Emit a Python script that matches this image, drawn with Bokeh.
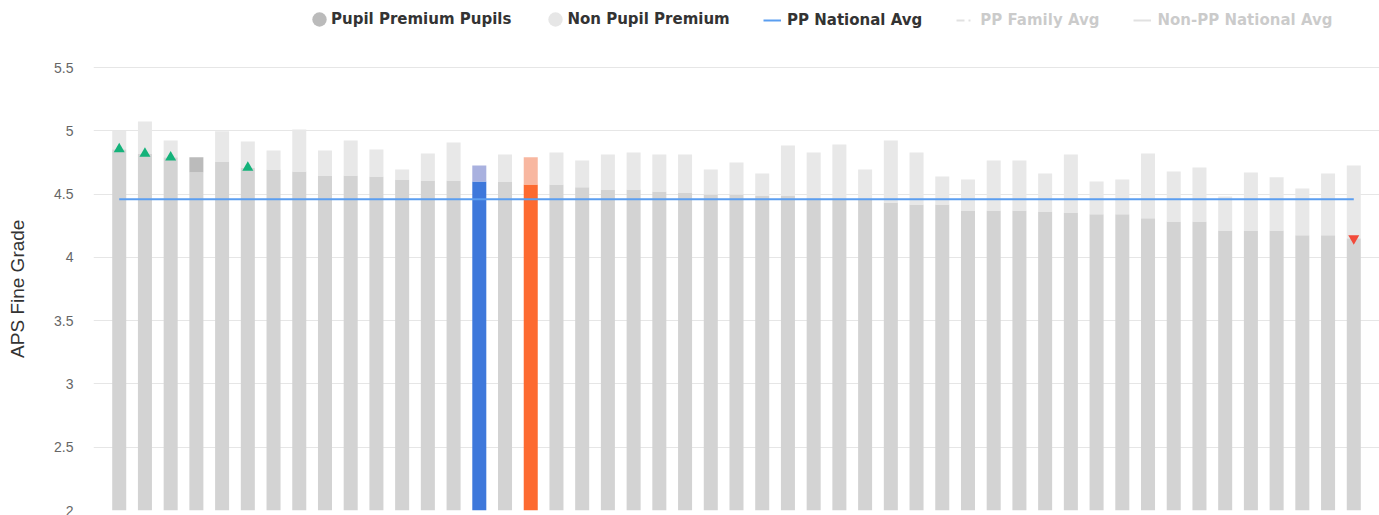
import numpy as np
from bokeh.plotting import figure
from bokeh.models import (Range1d, FixedTicker, CustomJSTickFormatter, Legend,
                          LegendItem, ColumnDataSource)
from bokeh.embed import file_html
from bokeh.resources import INLINE

# ---------------- data ----------------
pp_scores = [4.855, 4.82, 4.79, 4.79, 4.758, 4.71, 4.694, 4.678, 4.647, 4.647,
             4.639, 4.615, 4.608, 4.608, 4.60, 4.60, 4.576, 4.576, 4.553, 4.537,
             4.537, 4.521, 4.513, 4.497, 4.497, 4.489, 4.489, 4.466, 4.46, 4.455,
             4.434, 4.418, 4.418, 4.371, 4.371, 4.371, 4.363, 4.355, 4.34, 4.34,
             4.308, 4.284, 4.284, 4.213, 4.213, 4.213, 4.174, 4.174, 4.15]
non_pp_scores = [5.00, 5.073, 4.923, 4.67, 4.997, 4.916, 4.845, 5.01, 4.845, 4.923,
                 4.852, 4.694, 4.82, 4.907, 4.726, 4.813, 4.79, 4.829, 4.766, 4.813,
                 4.829, 4.813, 4.813, 4.695, 4.75, 4.663, 4.884, 4.829, 4.892, 4.695,
                 4.923, 4.829, 4.639, 4.615, 4.766, 4.766, 4.663, 4.813, 4.60, 4.615,
                 4.821, 4.679, 4.71, 4.481, 4.671, 4.632, 4.545, 4.663, 4.726]
significance = ["up", "up", "up", "", "", "up"] + [""] * 42 + ["down"]
pp_national_avg = 4.46
school_pos = 14       # highlighted school (blue)
comparator_pos = 16   # highlighted comparator (orange)
y_ticks = [2, 2.5, 3, 3.5, 4, 4.5, 5, 5.5]
y_title = "APS Fine Grade"
legend_labels = ["Pupil Premium Pupils", "Non Pupil Premium", "PP National Avg",
                 "PP Family Avg", "Non-PP National Avg"]

# ---------------- derived ----------------
n = len(pp_scores)
xs = np.arange(n)
pp = np.array(pp_scores)
npp = np.array(non_pp_scores)
low = np.minimum(pp, npp)
high = np.maximum(pp, npp)

base_col = ["#d3d3d3"] * n
upper_col = ["#e8e8e8" if b > a else "#bbbbbb" for a, b in zip(pp, npp)]
base_col[school_pos], upper_col[school_pos] = "#3e78db", "#a9b1df"
base_col[comparator_pos], upper_col[comparator_pos] = "#fd6a30", "#f8b7a0"

src = ColumnDataSource(dict(x=xs, low=low, high=high, base=base_col, upper=upper_col))

# layout: the plot frame reaches the top of the canvas so that the legend row
# sits inside it; value 5.5 lands 67px below the top, value 2 at 510px.
FRAME_BOTTOM, TOP_TICK_PX = 510, 67
y_lo, y_hi_tick = y_ticks[0], y_ticks[-1]
y_top = y_lo + FRAME_BOTTOM * (y_hi_tick - y_lo) / (FRAME_BOTTOM - TOP_TICK_PX)

p = figure(width=1379, height=515, x_range=Range1d(-1, 49), y_range=Range1d(y_lo, y_top),
           output_backend="svg", toolbar_location=None, x_axis_location=None,
           min_border_left=93, min_border_right=0, min_border_top=0, min_border_bottom=5)
p.outline_line_color = None
p.xgrid.visible = False
p.ygrid.grid_line_color = "#e6e6e6"
p.ygrid.grid_line_width = 1

p.yaxis.ticker = FixedTicker(ticks=y_ticks)
p.yaxis.formatter = CustomJSTickFormatter(code="return String(tick)")
p.yaxis.axis_line_color = None
p.yaxis.major_tick_line_color = None
p.yaxis.minor_tick_line_color = None
p.yaxis.major_tick_out = 0
p.yaxis.major_tick_in = 0
p.yaxis.major_label_standoff = 20
p.yaxis.major_label_text_font = "Liberation Sans"
p.yaxis.major_label_text_font_size = "14px"
p.yaxis.major_label_text_color = "#666666"
# trailing em/en spaces keep the title centred on the 2..5.5 part of the axis
p.yaxis.axis_label = y_title + "\u2003" * 3 + "\u2002"
p.yaxis.axis_label_text_font = "Liberation Sans"
p.yaxis.axis_label_text_font_size = "19px"
p.yaxis.axis_label_text_font_style = "normal"
p.yaxis.axis_label_text_color = "#333333"
p.yaxis.axis_label_standoff = 23

bw = 0.545
p.vbar(x="x", bottom=y_lo, top="low", width=bw, source=src, fill_color="base", line_color=None)
p.vbar(x="x", bottom="low", top="high", width=bw, source=src, fill_color="upper", line_color=None)

r_nat = p.line(x=[xs[0], xs[-1]], y=[pp_national_avg, pp_national_avg],
               line_color="#5b9ef0", line_width=2)

up_idx = [i for i, s in enumerate(significance) if s == "up"]
dn_idx = [i for i, s in enumerate(significance) if s == "down"]
p.scatter(x=xs[up_idx], y=pp[up_idx], marker="triangle", size=11,
          fill_color="#14b27a", line_color=None)
p.scatter(x=xs[dn_idx], y=pp[dn_idx], marker="inverted_triangle", size=11,
          fill_color="#f24a3a", line_color=None)

# legend proxy renderers (a single NaN point: nothing is drawn in the plot)
nan = np.array([np.nan])
r_pp_leg = p.ellipse(x=nan, y=nan, width=14, height=14, width_units="screen",
                     height_units="screen", fill_color="#bbbbbb", line_color=None)
r_npp_leg = p.ellipse(x=nan, y=nan, width=14, height=14, width_units="screen",
                      height_units="screen", fill_color="#e6e6e6", line_color=None)
r_fam = p.line(x=nan, y=nan, line_color="#888888", line_width=2, line_dash="8 4 2 4", visible=False)
r_nonpp = p.line(x=nan, y=nan, line_color="#888888", line_width=2, visible=False)

common = dict(orientation="horizontal", padding=0, margin=0, border_line_color=None,
              background_fill_alpha=0, label_text_font="DejaVu Sans",
              label_text_font_style="bold", label_text_font_size="15px",
              label_text_color="#333333", glyph_width=18, glyph_height=20)

leg_a = Legend(items=[LegendItem(label=legend_labels[0], renderers=[r_pp_leg]),
                      LegendItem(label=legend_labels[1], renderers=[r_npp_leg])],
               location=(217, 481), label_standoff=3, spacing=35, **common)
leg_b = Legend(items=[LegendItem(label=legend_labels[2], renderers=[r_nat]),
                      LegendItem(label=legend_labels[3], renderers=[r_fam]),
                      LegendItem(label=legend_labels[4], renderers=[r_nonpp])],
               location=(670, 480), label_standoff=6, spacing=34, click_policy="hide",
               inactive_fill_color="white", inactive_fill_alpha=0.75, **common)
p.add_layout(leg_a)
p.add_layout(leg_b)

open("out.html", "w").write(file_html(p, INLINE))
